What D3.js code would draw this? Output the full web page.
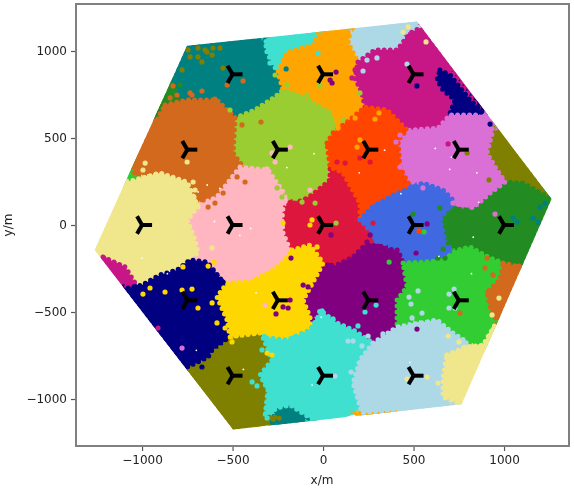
<!DOCTYPE html>
<html><head><meta charset="utf-8">
<script src="https://cdn.jsdelivr.net/npm/d3@7"></script>
<style>html,body{margin:0;padding:0;background:#fff}svg{display:block}text{font-family:"DejaVu Sans",sans-serif}</style>
</head><body><svg id="c" width="574" height="490"></svg>
<script>
const xTicks=[-1000,-500,0,500,1000], yTicks=[-1000,-500,0,500,1000];
const siteX=[-500,0,500,-750,-250,250,750,-1000,-500,0,500,1000,-750,-250,250,750,-500,0,500];
const siteY=[866,866,866,433,433,433,433,0,0,0,0,0,-433,-433,-433,-433,-866,-866,-866];
const hexagon=[[-751,1030],[519,1170],[1262,150],[765,-1030],[-497,-1175],[-1262,-144]];

const teal=[[-751,1017],[-309,1063],[-282,931],[-249,879],[-221,776],[-276,718],[-376,661],[-486,615],[-586,718],[-751,718],[-845,718],[-818,845]];
const turquoiseTop=[[-315,1055],[-17,1103],[-55,1006],[-199,994],[-249,879],[-282,931],[-315,1006]];
const orange=[[-55,1034],[-17,1103],[149,1109],[138,1046],[193,937],[177,845],[215,759],[232,678],[160,615],[66,563],[28,644],[-110,736],[-221,776],[-249,879],[-199,994]];
const lightblueTop=[[149,1109],[519,1161],[536,1121],[453,1103],[409,1006],[287,1006],[276,960],[193,937],[138,1046]];
const mvred=[[193,937],[287,1006],[409,1006],[481,1103],[536,1132],[867,661],[856,626],[702,644],[635,557],[552,534],[453,563],[354,661],[232,678],[215,759],[177,845]];
const navyTop=[[646,891],[702,862],[812,718],[884,644],[856,626],[702,644],[729,718],[663,776],[630,833]];
const chocolate=[[-873,690],[-751,718],[-586,718],[-486,615],[-497,414],[-442,333],[-586,161],[-663,126],[-724,155],[-751,247],[-901,299],[-1039,287],[-1050,345],[-917,603]];
const yellowgreen=[[-486,615],[-376,661],[-265,736],[-221,776],[-110,736],[39,644],[66,563],[22,471],[39,333],[39,259],[-61,172],[-127,132],[-221,190],[-304,305],[-442,333],[-497,414],[-481,529]];
const orangered=[[22,471],[55,529],[160,615],[232,678],[354,661],[464,546],[414,489],[425,333],[481,218],[387,144],[276,126],[204,40],[204,126],[110,299],[39,333]];
const orchid=[[414,523],[481,546],[635,557],[702,632],[884,632],[939,546],[906,414],[961,316],[1006,247],[923,184],[829,98],[718,144],[685,190],[564,241],[481,247],[436,333],[409,471]];
const oliveRight=[[939,557],[1254,155],[1182,190],[1105,241],[1017,247],[961,316],[906,414],[923,500]];
const forestgreen=[[923,184],[1006,247],[1105,241],[1254,155],[1088,-241],[995,-218],[912,-184],[812,-126],[740,-144],[674,-86],[646,17],[702,86],[829,98]];
const forestLeft=[[-834,805],[-790,718],[-873,690],[-917,603],[-928,632]];
const limeLeft=[[-1066,299],[-1028,362],[-1011,276],[-1083,201]];
const royalblue=[[204,29],[271,103],[387,172],[481,213],[552,241],[663,201],[718,144],[646,29],[674,-86],[718,-155],[564,-213],[464,-218],[409,-144],[287,-75],[232,0]];
const crimson=[[-221,103],[-110,144],[-61,172],[39,259],[39,333],[110,299],[204,126],[204,29],[232,0],[287,-75],[166,-184],[55,-241],[-28,-230],[-99,-213],[-182,-144],[-221,-46],[-227,29]];
const khaki=[[-1083,247],[-901,299],[-751,247],[-691,103],[-751,29],[-707,-86],[-691,-161],[-762,-213],[-807,-270],[-834,-316],[-901,-276],[-972,-356],[-1050,-316],[-1094,-230],[-1193,-184],[-1249,-144]];
const lightpink=[[-691,98],[-663,126],[-586,161],[-459,333],[-304,316],[-221,190],[-221,103],[-227,29],[-221,-46],[-182,-144],[-221,-213],[-276,-259],[-403,-328],[-530,-333],[-635,-213],[-735,-201],[-691,-161],[-707,-86],[-751,29]];
const mvredLeft=[[-1216,-184],[-1094,-241],[-1039,-333],[-1077,-362]];
const navy=[[-1077,-362],[-1000,-345],[-901,-287],[-807,-259],[-735,-201],[-641,-213],[-530,-356],[-586,-414],[-530,-546],[-514,-644],[-608,-707],[-635,-759],[-751,-816],[-779,-787],[-901,-621],[-1055,-414]];
const gold=[[-171,-144],[-72,-115],[0,-218],[-28,-276],[-110,-431],[-72,-529],[-72,-603],[-199,-661],[-309,-649],[-348,-621],[-442,-632],[-514,-644],[-530,-546],[-586,-414],[-530,-333],[-403,-328],[-276,-259],[-221,-213]];
const purple=[[55,-241],[166,-184],[232,-115],[287,-132],[414,-144],[442,-218],[464,-356],[409,-431],[409,-586],[276,-678],[166,-603],[77,-563],[-17,-489],[-72,-563],[-72,-529],[-110,-431],[-28,-276],[39,-218]];
const limegreen=[[442,-218],[564,-213],[663,-201],[740,-144],[812,-126],[912,-184],[995,-218],[989,-316],[906,-385],[934,-471],[961,-529],[906,-644],[884,-690],[796,-672],[718,-621],[630,-546],[497,-546],[409,-586],[409,-431],[464,-356]];
const chocolateRight=[[995,-218],[1088,-241],[961,-546],[934,-506],[923,-471],[906,-385],[978,-316]];
const olive=[[-514,-661],[-431,-632],[-337,-632],[-282,-776],[-348,-862],[-315,-960],[-331,-1092],[-238,-1109],[-497,-1167],[-751,-833],[-641,-759]];
const tealBottom=[[-282,-1132],[-254,-1052],[-182,-1034],[-116,-1063],[-72,-1109],[-238,-1144]];
const turquoise=[[-309,-649],[-199,-661],[-72,-603],[-28,-529],[-17,-489],[77,-563],[166,-603],[276,-678],[204,-759],[160,-908],[204,-1052],[39,-1103],[-72,-1109],[-182,-1034],[-254,-1052],[-320,-1092],[-304,-948],[-348,-862],[-282,-776],[-337,-632]];
const lightblue=[[276,-678],[409,-586],[630,-546],[718,-621],[796,-672],[740,-718],[685,-736],[663,-874],[663,-989],[718,-1023],[409,-1063],[215,-1080],[166,-908],[204,-776]];
const orangeBottom=[[204,-1080],[398,-1058],[370,-1075],[232,-1098]];
const khakiRight=[[685,-747],[785,-701],[884,-690],[950,-575],[757,-1023],[663,-989],[663,-874]];

const cells=[
 [teal,"#008080"],[turquoiseTop,"#40e0d0"],[lightblueTop,"#add8e6"],[orange,"#ffa500"],[mvred,"#c71585"],[navyTop,"#000080"],
 [forestLeft,"#228b22"],[limeLeft,"#32cd32"],[yellowgreen,"#9acd32"],[chocolate,"#d2691e"],[oliveRight,"#808000"],
 [forestgreen,"#228b22"],[orchid,"#da70d6"],[crimson,"#dc143c"],[orangered,"#ff4500"],[royalblue,"#4169e1"],
 [lightpink,"#ffb6c1"],[khaki,"#f0e68c"],[mvredLeft,"#c71585"],[purple,"#800080"],[limegreen,"#32cd32"],[chocolateRight,"#d2691e"],
 [tealBottom,"#008080"],[olive,"#808000"],[navy,"#000080"],[gold,"#ffd700"],[turquoise,"#40e0d0"],[orangeBottom,"#ffa500"],[lightblue,"#add8e6"],[khakiRight,"#f0e68c"]
];

const strayOlive=[[-746,1006],[-691,1017],[-652,1006],[-608,1017],[-569,1017],[-735,966],[-691,966],[-669,937],[-613,977],[-641,994],[-779,891],[-553,902],[917,259],[796,414]];
const strayChocolate=[[-829,799],[-807,747],[-845,730],[-724,747],[-669,770],[-530,805],[-442,828],[-597,724],[-735,759],[-597,126],[-635,103],[-486,345],[-475,276],[-431,247],[-552,184],[-663,144],[-448,575],[-343,592],[906,-190],[895,-247],[939,-287],[1083,-236],[912,-385],[757,-506]];
const strayKhaki=[[-751,362],[-983,356],[-995,316],[-890,287],[-718,247],[-707,201],[-713,161],[569,1052],[442,1109],[470,1138],[972,-420],[934,-517],[691,-638],[751,-672],[685,-747],[635,-908],[575,-874],[464,-885],[-613,-132]];
const strayPink=[[-182,448],[-282,414],[-265,362],[-309,322],[-72,201],[-320,-460]];
const strayYellowgreen=[[-254,213],[-227,161],[-182,190],[-116,132],[-44,126],[-514,661],[-265,862],[-199,805],[-17,799],[-144,730],[-88,747],[204,759],[50,586],[110,603],[72,11]];
const strayTeal=[[-204,897],[1072,17],[1050,40],[1199,103],[1227,126],[1160,40],[1188,17]];
const strayTurquoise=[[-28,988],[-293,931],[232,-500],[293,-460],[193,-580],[55,-540],[-5,-494],[-337,-718],[-166,-649],[-392,-902],[-365,-925],[-293,-1052],[-309,-1109]];
const strayPurple=[[39,833],[72,879],[50,816],[575,6],[514,-161],[44,-57],[260,-57],[243,-98],[519,-598],[-110,-345],[-83,-356],[-182,-431],[-221,-471],[-193,-477],[-260,-511],[-177,-190]];
const strayMvred=[[160,845],[177,891],[691,466],[-912,-592]];
const strayLightblue=[[221,885],[243,948],[298,960],[464,925],[696,-397],[724,-368],[696,-477],[729,-477],[525,-379],[475,-414],[486,-454],[547,-506],[492,-534],[331,-626],[249,-638],[381,-621],[138,-667],[166,-667],[155,-845],[66,-868],[215,-695]];
const strayNavy=[[519,799],[923,580],[873,649],[-669,-816],[-552,-328]];
const strayOrange=[[166,782],[204,489],[188,448],[287,609],[309,644],[177,615],[83,557]];
const strayCrimson=[[204,385],[260,362],[122,356],[77,362],[276,11]];
const strayOrchid=[[403,477],[425,517],[425,333],[552,213],[718,126],[746,126],[950,63],[-779,-707]];
const strayForest=[[-790,805],[646,98],[497,63],[801,-86],[740,-57],[635,-190],[674,-190],[663,-138],[691,-103]];
const strayOrangered=[[530,-34]];
const strayLime=[[558,-40],[365,-213]];
const strayGold=[[-221,11],[-61,29],[-72,0],[-33,-126],[-724,-368],[-691,-477],[-779,-374],[-873,-385],[-995,-397],[-956,-362],[-613,-448],[-586,-563],[-541,-592],[-635,-236],[-602,-213],[-774,-241],[-282,-747],[-309,-736],[-503,-672]];
const strays=[[strayOlive,"#808000"],[strayChocolate,"#d2691e"],[strayPink,"#ffb6c1"],[strayPurple,"#800080"],[strayTurquoise,"#40e0d0"],[strayLightblue,"#add8e6"],[strayYellowgreen,"#9acd32"],[strayOrange,"#ffa500"],[strayCrimson,"#dc143c"],[strayNavy,"#000080"],[strayForest,"#228b22"],[strayLime,"#32cd32"],[strayTeal,"#008080"],[strayOrchid,"#da70d6"],[strayMvred,"#c71585"],[strayOrangered,"#ff4500"],[strayKhaki,"#f0e68c"],[strayGold,"#ffd700"]];
const specks=[[-690,190],[-570,210],[-640,230],[-200,330],[-50,410],[200,300],[340,430],[620,440],[710,390],[850,300],[860,130],[430,180],[700,320],[-600,20],[-400,-20],[-460,-60],[-280,-400],[-370,-390],[-10,-530],[820,-280],[640,-180],[830,-70],[480,-790],[-60,-920],[-440,-830],[-1000,-190],[-860,-280],[-700,-720]];

const W=574,H=490,L=76,R=569,T=4,B=446;
const x=d3.scaleLinear().domain([-1365,1359]).range([L,R]);
const y=d3.scaleLinear().domain([-1270,1270]).range([B,T]);
const svg=d3.select("#c");
const line=d3.line().x(d=>x(d[0])).y(d=>y(d[1])).curve(d3.curveLinearClosed);
const defs=svg.append("defs");
const blur=defs.append("filter").attr("id","b").attr("filterUnits","userSpaceOnUse").attr("x",0).attr("y",0).attr("width",W).attr("height",H);
blur.append("feGaussianBlur").attr("stdDeviation",0.55);
defs.append("clipPath").attr("id","hex").append("path").attr("d",line(hexagon));
const root=svg.append("g").attr("filter","url(#b)");
root.append("rect").attr("width",W).attr("height",H).attr("fill","#fff");
const plot=root.append("g").attr("clip-path","url(#hex)");
cells.forEach(([pts,c])=>{
 plot.append("path").attr("d",line(pts)).attr("fill","none").attr("stroke",c).attr("stroke-width",9);
});
cells.forEach(([pts,c])=>{
 plot.append("path").attr("d",line(pts)).attr("fill",c).attr("stroke",c).attr("stroke-width",5).attr("stroke-linecap","round").attr("stroke-dasharray","0 6");
});
strays.forEach(([pts,c])=>{
 plot.selectAll(null).data(pts).join("circle").attr("cx",d=>x(d[0])).attr("cy",d=>y(d[1])).attr("r",2.6).attr("fill",c);
});
plot.selectAll(null).data(specks).join("circle").attr("cx",d=>x(d[0])).attr("cy",d=>y(d[1])).attr("r",0.9).attr("fill","#fff");
const arm=10;
const tri=[0,120,240].map(a=>[arm*Math.cos(a*Math.PI/180),arm*Math.sin(a*Math.PI/180)]);
const marks=root.append("g").selectAll(null).data(siteX.map((v,i)=>[v,siteY[i]])).join("g").attr("transform",d=>`translate(${x(d[0])},${y(d[1])})`);
tri.forEach(t=>marks.append("line").attr("x2",t[0]).attr("y2",t[1]).attr("stroke","#000").attr("stroke-width",4));
const fmt=d=>String(d).replace("-","\u2212");
const ax=root.append("g").attr("transform",`translate(0,${B})`).call(d3.axisBottom(x).tickValues(xTicks).tickSize(5).tickPadding(4).tickFormat(fmt));
const ay=root.append("g").attr("transform",`translate(${L},0)`).call(d3.axisLeft(y).tickValues(yTicks).tickSize(5).tickPadding(4).tickFormat(fmt));
[ax,ay].forEach(a=>{a.select(".domain").remove();a.selectAll("line").attr("stroke","#555").attr("stroke-width",1.2);a.selectAll("text").attr("font-size",12).attr("font-family","DejaVu Sans").attr("fill","#222");});
root.append("rect").attr("x",L).attr("y",T).attr("width",R-L).attr("height",B-T).attr("fill","none").attr("stroke","#808080").attr("stroke-width",2);
root.append("text").attr("x",322).attr("y",484).attr("text-anchor","middle").attr("font-size",12).attr("fill","#222").text("x/m");
root.append("text").attr("transform","translate(12,225) rotate(-90)").attr("text-anchor","middle").attr("font-size",12).attr("fill","#222").text("y/m");
</script></body></html>
